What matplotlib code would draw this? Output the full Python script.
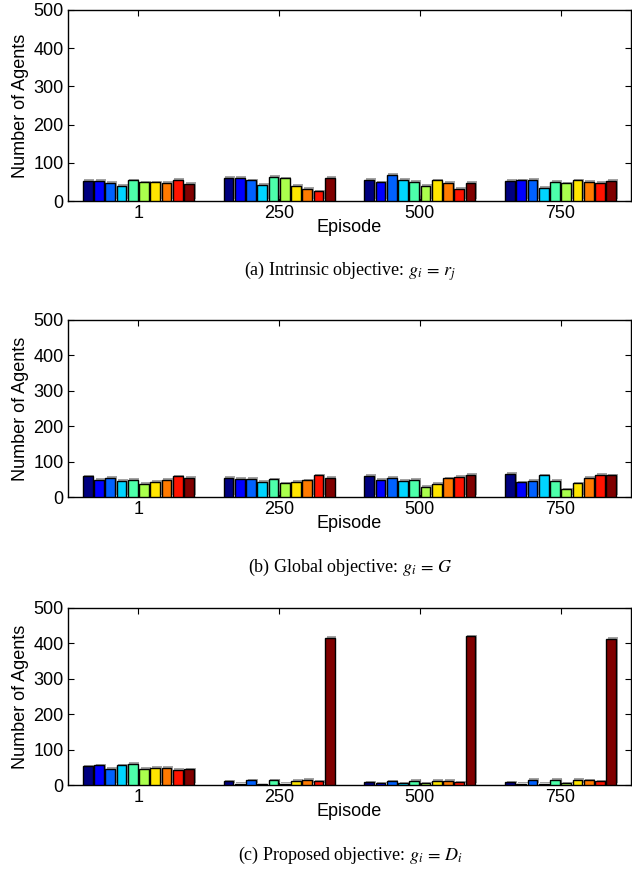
import matplotlib
matplotlib.use("Agg")
import matplotlib.pyplot as plt
import matplotlib.patheffects as pe
import numpy as np

episodes = ["1", "250", "500", "750"]

# rows: episode groups, columns: 10 agent types (jet colours)
intrinsic = [
    [53, 53, 48, 39, 54, 49, 49, 48, 56, 45],
    [60, 60, 54, 43, 64, 59, 40, 32, 25, 60],
    [55, 49, 68, 56, 51, 40, 54, 47, 31, 47],
    [53, 54, 55, 34, 51, 46, 54, 50, 48, 52],
]
global_obj = [
    [58, 49, 54, 46, 48, 38, 43, 49, 58, 55],
    [55, 51, 52, 43, 50, 39, 43, 47, 61, 54],
    [59, 49, 54, 45, 49, 29, 38, 53, 57, 63],
    [65, 41, 46, 61, 46, 22, 39, 55, 63, 61],
]
proposed = [
    [53, 56, 46, 56, 60, 45, 49, 49, 43, 44],
    [10, 3, 13, 2, 13, 3, 11, 14, 10, 415],
    [8, 5, 10, 5, 11, 5, 11, 11, 8, 420],
    [8, 3, 15, 3, 14, 5, 14, 13, 10, 413],
]
captions = [
    r"(a) Intrinsic objective: $g_i\,=\,r_j$",
    r"(b) Global objective: $g_i\,=\,G$",
    r"(c) Proposed objective: $g_i\,=\,D_i$",
]

W, H = 632, 869
fig = plt.figure(figsize=(W / 100, H / 100), dpi=100)
plt.rcParams["mathtext.fontset"] = "stix"

panels = [(intrinsic, 10, 201), (global_obj, 320, 497), (proposed, 608, 785)]
colors = plt.cm.jet(np.linspace(0, 1, 10))
sans = ["Liberation Sans", "DejaVu Sans"]
serif = ["Liberation Serif", "DejaVu Serif"]

ax_left, ax_right = 68, 631
for (data, top, bot), cap in zip(panels, captions):
    ax = fig.add_axes([ax_left / W, 1 - bot / H, (ax_right - ax_left) / W, (bot - top) / H])
    arr = np.array(data, dtype=float)
    ngroups, nbars = arr.shape
    group_w = 0.8
    pitch = group_w / nbars
    for j in range(nbars):
        xs = np.arange(1, ngroups + 1) - group_w / 2 + pitch * (j + 0.5)
        bars = ax.bar(xs, arr[:, j], width=pitch * 0.88, color=colors[j],
                      edgecolor="black", linewidth=1.0, zorder=3)
        for b in bars:
            b.set_path_effects([pe.SimplePatchShadow(offset=(1.2, 1.2), shadow_rgbFace="0.55", alpha=0.8),
                                pe.Normal()])
    ax.set_xlim(0.5, 4.5)
    ax.set_ylim(0, 500)
    ax.set_xticks(np.arange(1, ngroups + 1))
    ax.set_xticklabels(episodes, fontfamily=sans, fontsize=13)
    ax.set_yticks([0, 100, 200, 300, 400, 500])
    ax.set_yticklabels(["0", "100", "200", "300", "400", "500"], fontfamily=sans, fontsize=13)
    ax.tick_params(direction="in", length=4, width=0.8, top=True, right=True, pad=3)
    for s in ax.spines.values():
        s.set_linewidth(1.0)
    ax.set_ylabel("Number of Agents", fontfamily=sans, fontsize=13, labelpad=3)
    ax.set_xlabel("Episode", fontfamily=sans, fontsize=13, labelpad=-2)
    fig.text(350 / W, 1 - (bot + 70) / H, cap,
             ha="center", va="center", fontfamily=serif, fontsize=13)

fig.savefig("out.png", dpi=100)
